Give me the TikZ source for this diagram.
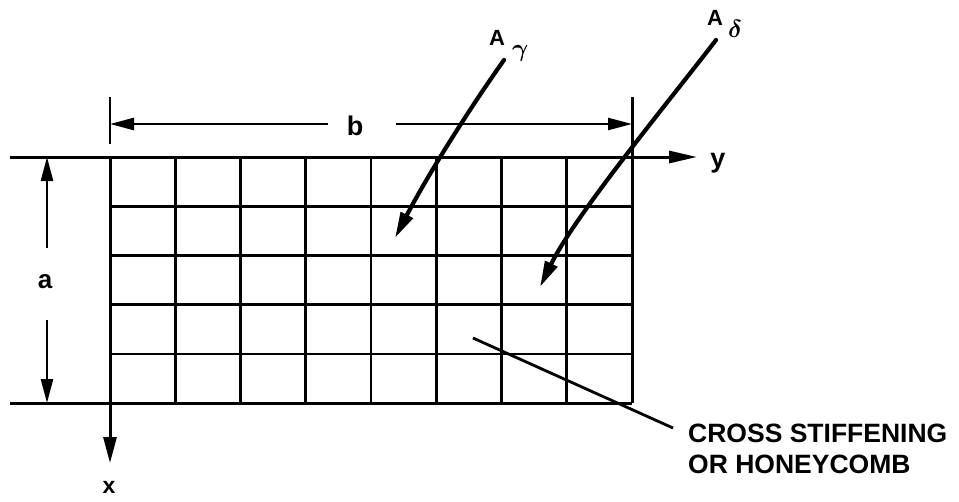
\documentclass[tikz,border=0pt]{standalone}
\usepackage{fontspec}
\setmainfont{Liberation Sans}
\usetikzlibrary{arrows.meta}
\begin{document}
\begin{tikzpicture}[x=1pt,y=-1pt,
  gridline/.style={line width=2.6pt},
  frameline/.style={line width=3.0pt},
  dimline/.style={line width=2.5pt},
  dimtip/.style={-{Triangle[length=24pt,width=12pt]}},
  loadarrow/.style={line width=4.2pt,line cap=round,-{Triangle[length=26pt,width=13pt]}},
  leader/.style={line width=2.8pt},
  lab/.style={inner sep=0pt,font=\bfseries\fontsize{27}{30}\selectfont},
  note/.style={inner sep=0pt,anchor=base west,font=\bfseries\fontsize{26.5}{30}\selectfont}]
\path[use as bounding box] (0,0) rectangle (959,501);
% grid corners
\coordinate (tl) at (110,157);
\coordinate (tr) at (632,157);
\coordinate (bl) at (110,403);
\coordinate (brc) at (632,403);
% grid
\foreach \i in {1,...,7} {
  \draw[gridline] (110+65.25*\i,157) -- (110+65.25*\i,403);
}
\foreach \j in {1,...,4} {
  \draw[gridline] (110,157+49.2*\j) -- (632,157+49.2*\j);
}
% extension / axis lines
\coordinate (topL) at (10,157);
\coordinate (ytip) at (697,157);
\coordinate (botL) at (10,403);
\coordinate (xtip) at (110,463);
\draw[frameline,-{Triangle[length=28pt,width=12pt]}] (topL) -- (ytip);
\draw[frameline] (botL) -- (brc);
\draw[frameline,-{Triangle[length=26pt,width=13pt]}] (tl) -- (xtip);
\draw[frameline] (tr) -- (brc);
\coordinate (extLtop) at (110,97);
\coordinate (extLbot) at (110,144);
\coordinate (extRtop) at (632,97);
\draw[dimline] (extLtop) -- (extLbot);
\draw[frameline] (extRtop) -- (tr);
% axis labels
\node[lab,anchor=base] (ylab) at (718,167) {y};
\node[lab,anchor=base,font=\bfseries\fontsize{23}{26}\selectfont] (xlab) at (109,493) {x};
% dimension b
\node[lab,anchor=base] (b) at (355,135) {b};
\coordinate (bL) at (110,124);
\coordinate (bR) at (632,124);
\coordinate (bL2) at (328,124);
\coordinate (bR2) at (396,124);
\draw[dimline,dimtip] (bL2) -- (bL);
\draw[dimline,dimtip] (bR2) -- (bR);
% dimension a
\node[lab,anchor=base,font=\bfseries\fontsize{26}{30}\selectfont] (a) at (45,288) {a};
\coordinate (aT) at (47,157);
\coordinate (aB) at (47,403);
\coordinate (aT2) at (47,248);
\coordinate (aB2) at (47,320);
\draw[dimline,dimtip] (aT2) -- (aT);
\draw[dimline,dimtip] (aB2) -- (aB);
% load A gamma
\node[inner sep=0pt,anchor=base west,font=\bfseries\fontsize{22}{25}\selectfont] (Ag) at (489,45)
  {A\hspace{7pt}\raisebox{-11pt}{\fontsize{37}{37}\selectfont\boldmath$\gamma$}};
\coordinate (gs) at (504,60);
\coordinate (ge) at (395,238);
\draw[loadarrow] (gs) .. controls (465,115) and (425,180) .. (ge);
% load A delta
\node[inner sep=0pt,anchor=base west,font=\bfseries\fontsize{22}{25}\selectfont] (Ad) at (707,25)
  {A\hspace{5pt}\raisebox{-12pt}{\fontsize{37}{37}\selectfont\boldmath$\delta$}};
\coordinate (ds) at (716,40);
\coordinate (de) at (540,287);
\draw[loadarrow] (ds) .. controls (670,100) and (575,215) .. (de);
% note
\node[note] (n1) at (688,442) {CROSS STIFFENING};
\node[note] (n2) at (688,473) {OR HONEYCOMB};
\coordinate (ls) at (473,338);
\coordinate (le) at (673,428);
\draw[leader] (ls) -- (le);
\end{tikzpicture}
\end{document}
